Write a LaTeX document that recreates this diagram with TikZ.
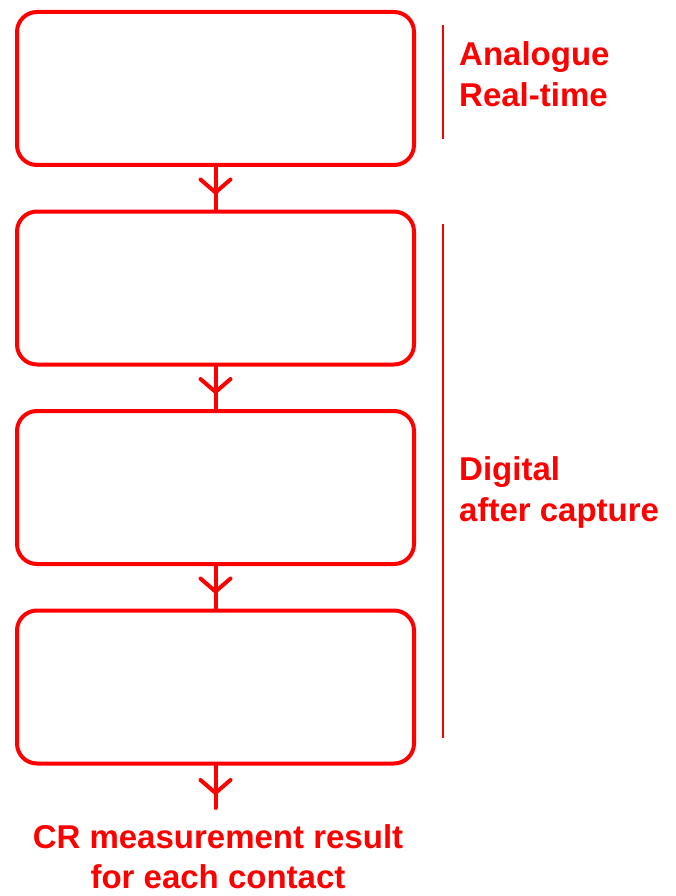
\documentclass[tikz,border=0pt]{standalone}
\usepackage{fontspec}
\setmainfont{Liberation Sans}
\usetikzlibrary{arrows.meta}
\definecolor{rd}{RGB}{255,0,0}
\begin{document}
\begin{tikzpicture}[x=1pt,y=-1pt,
  stepbox/.style={draw=rd, line width=4pt, rounded corners=20pt, rectangle,
    minimum width=397pt, minimum height=153pt, inner sep=0pt},
  flow/.style={draw=rd, line width=4pt, line cap=round},
  tipline/.style={draw=rd, line width=4pt, line cap=round,
    -{Straight Barb[length=13pt, width=30pt, round]}},
  sideline/.style={draw=rd, line width=2pt},
  lbl/.style={text=rd, font=\bfseries\fontsize{33}{41}\selectfont, inner sep=0pt}
]
\useasboundingbox (0,0) rectangle (675,896);
\node[stepbox] (b1) at (215.5,88.5) {};
\node[stepbox] (b2) at (215.5,288) {};
\node[stepbox] (b3) at (215.5,487.5) {};
\node[stepbox] (b4) at (215.5,687) {};
\coordinate (e4) at (215.5,808);
% connectors
\draw[flow] (b1.south) -- (b2.north);
\draw[tipline, shorten >=15pt] (b1.south) -- (b2.north);
\draw[flow] (b2.south) -- (b3.north);
\draw[tipline, shorten >=15pt] (b2.south) -- (b3.north);
\draw[flow] (b3.south) -- (b4.north);
\draw[tipline, shorten >=15pt] (b3.south) -- (b4.north);
\draw[flow] (b4.south) -- (e4);
\draw[tipline, shorten >=13pt] (b4.south) -- (e4);
% side brackets
\coordinate (s1a) at (443,25);
\coordinate (s1b) at (443,139);
\coordinate (s2a) at (443,224);
\coordinate (s2b) at (443,738);
\draw[sideline] (s1a) -- (s1b);
\draw[sideline] (s2a) -- (s2b);
% labels (base anchor = baseline of last line)
\node[lbl, anchor=base west, align=left] (t1) at (459,107) {Analogue\\Real-time};
\node[lbl, anchor=base west, align=left] (t2) at (459,521) {Digital\\after capture};
\node[lbl, anchor=base, align=center, font=\bfseries\fontsize{33}{40}\selectfont] (t3) at (218,888) {CR measurement result\\for each contact};
\end{tikzpicture}
\end{document}
